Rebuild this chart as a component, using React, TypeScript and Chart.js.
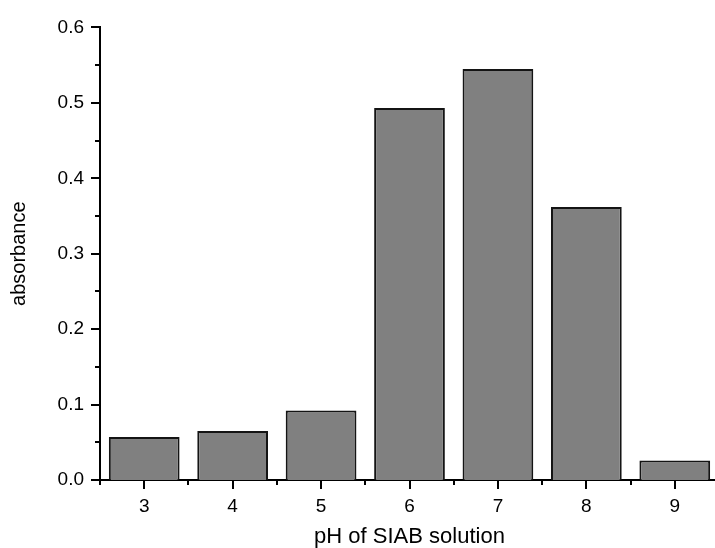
import React, { useEffect, useRef } from "react";
import { Chart, registerables } from "chart.js";

Chart.register(...registerables);

const categories = ["3", "4", "5", "6", "7", "8", "9"];
const absorbance = [0.057, 0.065, 0.092, 0.493, 0.545, 0.362, 0.026];
const yMin = 0;
const yMax = 0.6;
const yStep = 0.1;
const yMinorStep = 0.05;

const FONT = "'Liberation Sans', Arial, sans-serif";

const tickPlugin = {
  id: "originTicks",
  afterDraw(chart: any) {
    const ctx = chart.ctx;
    const x = chart.scales.x;
    const y = chart.scales.y;
    const area = chart.chartArea;
    ctx.save();
    ctx.strokeStyle = "#000";
    ctx.lineWidth = 2;
    const n = Math.round((yMax - yMin) / yMinorStep);
    for (let i = 0; i <= n; i++) {
      const v = yMin + i * yMinorStep;
      const py = Math.round(y.getPixelForValue(v));
      const len = i % 2 === 0 ? 9 : 5;
      ctx.beginPath();
      ctx.moveTo(area.left - len, py);
      ctx.lineTo(area.left, py);
      ctx.stroke();
    }
    const step = x.getPixelForValue(1) - x.getPixelForValue(0);
    for (let i = 0; i < categories.length; i++) {
      const px = Math.round(x.getPixelForValue(i));
      ctx.beginPath();
      ctx.moveTo(px, area.bottom);
      ctx.lineTo(px, area.bottom + 9);
      ctx.stroke();
    }
    for (let i = 0; i <= categories.length; i++) {
      const px = Math.round(x.getPixelForValue(0) - step / 2 + i * step);
      ctx.beginPath();
      ctx.moveTo(px, area.bottom);
      ctx.lineTo(px, area.bottom + 5);
      ctx.stroke();
    }
    ctx.restore();
  },
};

export default function App() {
  const ref = useRef<HTMLCanvasElement | null>(null);
  useEffect(() => {
    if (!ref.current) return;
    const chart = new Chart(ref.current, {
      type: "bar",
      data: {
        labels: categories,
        datasets: [
          {
            data: absorbance,
            backgroundColor: "#808080",
            borderColor: "#141414",
            borderWidth: 2,
            barPercentage: 0.8,
            categoryPercentage: 1,
          },
        ],
      },
      options: {
        responsive: false,
        animation: false,
        layout: { padding: { top: 24, right: 11, left: 0, bottom: 0 } },
        plugins: { legend: { display: false }, tooltip: { enabled: false } },
        scales: {
          x: {
            grid: { display: false, drawTicks: false },
            border: { display: true, color: "#000", width: 2 },
            ticks: { color: "#000", font: { family: FONT, size: 19 }, padding: 15 },
            title: {
              display: true,
              text: "pH of SIAB solution",
              color: "#000",
              font: { family: FONT, size: 22, lineHeight: 1.0 },
              padding: { top: 0, bottom: 0 },
            },
            afterFit(scale: any) {
              scale.height = 68;
            },
          },
          y: {
            min: yMin,
            max: yMax,
            grid: { display: false, drawTicks: false },
            border: { display: true, color: "#000", width: 2 },
            ticks: {
              stepSize: yStep,
              color: "#000",
              font: { family: FONT, size: 19 },
              padding: 16,
              callback: (v: any) => Number(v).toFixed(1),
            },
            title: {
              display: true,
              text: "absorbance",
              color: "#000",
              font: { family: FONT, size: 20, lineHeight: 1.0 },
              padding: { top: 9, bottom: 0 },
            },
            afterFit(scale: any) {
              scale.width = 100;
            },
          },
        },
      },
      plugins: [tickPlugin],
    });
    return () => chart.destroy();
  }, []);
  return (
    <div
      style={{
        position: "fixed",
        left: 0,
        top: 0,
        width: 715,
        height: 548,
        overflow: "hidden",
        background: "#fff",
      }}
    >
      <canvas ref={ref} width={730} height={548} style={{ width: 730, height: 548, display: "block" }} />
    </div>
  );
}
